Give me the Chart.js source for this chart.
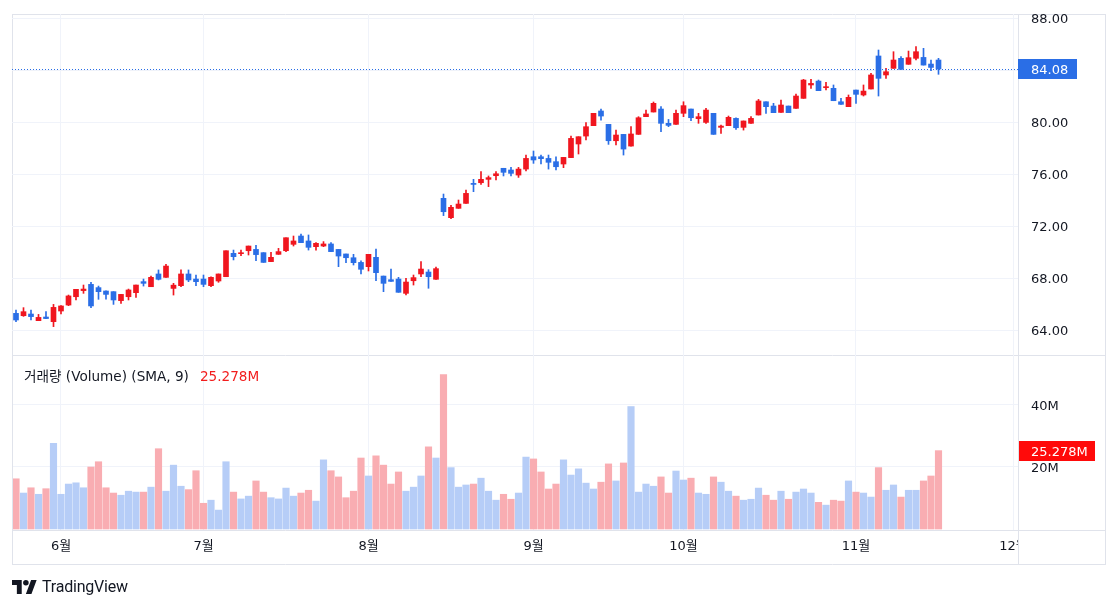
<!DOCTYPE html>
<html>
<head>
<meta charset="utf-8">
<script src="https://cdn.jsdelivr.net/npm/chart.js@4.4.1/dist/chart.umd.min.js"></script>
<style>
  html, body { margin: 0; padding: 0; background: #fff; width: 1118px; height: 609px; overflow: hidden; }
  #price { position: absolute; left: 0; top: 0; }
  #volume { position: absolute; left: 0; top: 356px; }
  #logo { position: absolute; left: 12px; top: 577px; display: flex; align-items: center; gap: 5px;
          font: 16px Roboto, "Noto Sans", sans-serif; color: #131722; letter-spacing: -0.2px; }
</style>
</head>
<body>
<canvas id="price" width="1118" height="356"></canvas>
<canvas id="volume" width="1118" height="253"></canvas>
<div id="logo">
  <svg width="25" height="14" viewBox="0 0 36 20"><path d="M14 20H7V7H0V0h14v20zM28 20h-8l7.5-20h8L28 20z" fill="#131722"/><circle cx="20" cy="4" r="4" fill="#131722"/></svg>
  <span>TradingView</span>
</div>
<script>
// daily bars, 23 May - 18 Nov (bar index on the x axis)
const open = [65.28, 65.10, 65.23, 64.72, 65.00, 64.64, 65.46, 65.92, 66.56, 67.03,
  67.51, 67.26, 67.00, 66.95, 66.26, 66.56, 66.87, 67.72, 67.33, 68.31,
  68.05, 67.20, 67.41, 68.31, 67.92, 67.92, 67.41, 67.77, 68.10, 69.90,
  69.87, 70.10, 70.20, 69.95, 69.26, 69.82, 70.10, 70.59, 71.23, 70.85,
  70.41, 70.46, 70.62, 70.20, 69.85, 69.56, 69.20, 68.87, 69.59, 68.15,
  67.87, 67.92, 66.82, 67.79, 68.31, 68.46, 67.90, 74.13, 72.64, 73.36,
  73.74, 75.28, 75.33, 75.59, 75.87, 76.44, 76.31, 75.92, 76.38, 77.33,
  77.33, 77.20, 76.95, 76.77, 77.26, 78.31, 78.92, 79.72, 80.85, 79.82,
  78.56, 79.05, 78.15, 79.05, 80.41, 80.77, 81.00, 79.90, 79.82, 80.67,
  81.00, 80.26, 79.97, 80.67, 79.59, 79.72, 80.28, 79.59, 79.90, 80.54,
  81.56, 81.23, 80.74, 81.23, 81.05, 81.82, 82.85, 83.15, 82.64, 82.59,
  81.56, 81.18, 82.46, 82.08, 82.54, 85.08, 83.62, 84.13, 84.90, 84.44,
  84.90, 84.97, 84.46, 84.77];
const high = [65.54, 65.72, 65.54, 65.20, 65.41, 65.97, 65.87, 66.69, 67.13, 67.46,
  67.67, 67.38, 67.02, 66.95, 66.74, 67.15, 67.46, 67.92, 68.15, 68.62,
  69.05, 67.59, 68.62, 68.62, 68.23, 68.23, 68.10, 68.31, 70.10, 70.15,
  70.15, 70.46, 70.51, 69.95, 69.97, 70.28, 71.10, 71.23, 71.38, 71.31,
  70.72, 70.80, 70.72, 70.20, 69.85, 69.82, 69.33, 69.82, 70.23, 68.15,
  68.69, 68.05, 67.97, 68.23, 69.26, 68.64, 68.85, 74.46, 73.59, 74.00,
  74.77, 75.59, 76.18, 75.85, 76.18, 76.44, 76.51, 76.51, 77.46, 77.77,
  77.46, 77.46, 77.33, 77.28, 78.92, 78.87, 79.95, 80.67, 81.00, 79.82,
  79.38, 79.05, 79.64, 80.41, 80.92, 81.54, 81.18, 80.20, 80.92, 81.56,
  81.00, 80.67, 81.05, 80.67, 79.77, 80.46, 80.33, 80.08, 80.41, 81.74,
  81.56, 81.44, 81.69, 81.23, 82.15, 83.28, 83.28, 83.23, 83.05, 82.85,
  81.82, 82.08, 82.46, 82.85, 83.74, 85.54, 84.13, 85.41, 85.03, 85.46,
  85.80, 85.67, 84.77, 84.90];
const low = [64.64, 65.05, 64.77, 64.72, 64.87, 64.26, 65.23, 65.87, 66.31, 66.82,
  65.72, 66.36, 66.38, 65.97, 66.05, 66.31, 66.51, 67.38, 67.33, 67.85,
  68.05, 66.69, 67.33, 67.72, 67.41, 67.33, 67.33, 67.67, 68.10, 69.39,
  69.72, 69.77, 69.33, 69.20, 69.26, 69.82, 70.03, 70.46, 70.72, 70.15,
  70.15, 70.41, 70.03, 68.87, 69.18, 69.00, 68.31, 68.54, 67.80, 66.95,
  67.74, 66.90, 66.69, 67.46, 68.10, 67.21, 67.90, 72.80, 72.56, 73.36,
  73.74, 74.64, 75.20, 75.03, 75.54, 75.85, 75.85, 75.74, 76.23, 76.82,
  76.77, 76.38, 76.31, 76.49, 77.26, 77.54, 78.62, 79.72, 80.15, 78.28,
  78.23, 77.46, 78.15, 79.05, 80.41, 80.77, 79.26, 79.64, 79.82, 80.41,
  80.10, 79.90, 79.90, 79.05, 79.13, 79.72, 79.44, 79.38, 79.90, 80.54,
  80.67, 80.72, 80.74, 80.72, 81.05, 81.82, 82.59, 82.41, 82.46, 81.64,
  81.36, 81.18, 81.44, 82.00, 82.54, 82.00, 83.36, 84.13, 84.05, 84.44,
  84.77, 84.38, 83.95, 83.67];
const close = [64.77, 65.41, 65.03, 64.97, 64.88, 65.74, 65.85, 66.62, 67.13, 67.15,
  65.85, 66.95, 66.74, 66.31, 66.74, 67.08, 67.46, 67.59, 68.05, 67.90,
  68.92, 67.45, 68.31, 67.85, 67.72, 67.51, 68.05, 68.31, 70.10, 69.64,
  69.90, 70.46, 69.80, 69.20, 69.59, 70.03, 71.10, 70.85, 70.72, 70.36,
  70.67, 70.62, 70.03, 69.69, 69.56, 69.18, 68.67, 69.82, 68.41, 67.59,
  67.74, 66.90, 67.69, 68.03, 68.69, 68.10, 68.72, 73.10, 73.44, 73.69,
  74.51, 75.20, 75.59, 75.72, 76.02, 76.13, 76.05, 76.38, 77.20, 77.08,
  77.18, 76.90, 76.56, 77.28, 78.74, 78.87, 79.64, 80.67, 80.46, 78.56,
  79.00, 77.92, 79.08, 80.33, 80.62, 81.44, 79.90, 79.74, 80.67, 81.26,
  80.33, 80.41, 80.92, 79.05, 79.69, 80.36, 79.56, 80.08, 80.28, 81.62,
  81.18, 80.72, 81.31, 80.72, 82.00, 83.23, 82.97, 82.41, 82.72, 81.64,
  81.36, 81.90, 82.13, 82.38, 83.62, 83.36, 83.87, 84.77, 84.05, 84.95,
  85.41, 84.38, 84.20, 84.08];
// volume in millions
const volume = [16.2, 11.6, 13.3, 11.2, 13.0, 27.6, 11.2, 14.5, 14.9, 13.3,
  20.0, 21.7, 13.3, 11.6, 10.9, 12.2, 11.9, 11.9, 13.5, 25.9,
  12.2, 20.6, 13.8, 12.7, 18.8, 8.3, 9.3, 6.1, 21.7, 11.9,
  9.7, 10.6, 15.5, 11.9, 10.1, 9.7, 13.2, 10.6, 11.6, 12.5,
  9.0, 22.3, 18.8, 16.8, 10.1, 12.2, 22.9, 17.1, 23.6, 20.6,
  14.5, 18.4, 12.2, 13.5, 17.1, 26.5, 22.9, 49.8, 19.8, 13.5,
  14.2, 14.5, 16.4, 12.2, 9.3, 11.2, 9.6, 11.6, 23.2, 22.6,
  18.4, 12.9, 14.5, 22.3, 17.4, 19.4, 14.8, 12.9, 15.1, 21.0,
  15.5, 21.3, 39.5, 11.9, 14.5, 13.8, 16.8, 11.6, 18.7, 15.8,
  16.4, 11.6, 11.2, 16.8, 15.1, 12.2, 10.6, 9.3, 9.6, 13.2,
  10.9, 9.3, 12.2, 9.6, 11.9, 12.9, 11.6, 8.6, 7.7, 9.3,
  9.0, 15.5, 11.9, 11.6, 10.3, 19.8, 12.5, 14.2, 10.3, 12.5,
  12.5, 15.5, 17.1, 25.278];

const monthTicks = [6, 25, 47, 69, 89, 112, 133];
const monthLabels = ["6월", "7월", "8월", "9월", "10월", "11월", "12월"];
const priceTicks = [64, 68, 72, 76, 80, 84, 88];
const volumeTicks = [20, 40];
const lastPrice = 84.08;
const lastVolume = 25.278;

const upColor = "#f0161f";
const downColor = "#2a6ee6";
const volUpColor = "#b6cdf7";
const volDownColor = "#f9adb2";
const gridColor = "#f0f3fa";
const frameColor = "#e0e3eb";
const textColor = "#131722";
const fontFamily = "'DejaVu Sans', 'Noto Sans CJK KR', sans-serif";
const axisFont = { family: fontFamily, size: 13 };
const xMin = -0.533;
const xMax = 133.6;

const idx = open.map((_, i) => i);
const candleColors = idx.map(i => (close[i] >= open[i] ? upColor : downColor));
const volumeColors = idx.map(i => (close[i] >= open[i] ? volUpColor : volDownColor));

function frameLine(ctx, x1, y1, x2, y2) {
  ctx.beginPath();
  ctx.moveTo(x1, y1);
  ctx.lineTo(x2, y2);
  ctx.stroke();
}

// keep the tick labels from shrinking the plot area
function noPad(s) {
  s.paddingTop = 0;
  s.paddingBottom = 0;
  s.paddingLeft = 0;
  s.paddingRight = 0;
}

const priceOverlay = {
  id: "priceOverlay",
  beforeDraw(chart) {
    const ctx = chart.ctx;
    ctx.save();
    ctx.strokeStyle = frameColor;
    ctx.lineWidth = 1;
    frameLine(ctx, 12.5, 14, 12.5, 356);
    frameLine(ctx, 12, 14.5, 1106, 14.5);
    frameLine(ctx, 1105.5, 14, 1105.5, 356);
    frameLine(ctx, 1018.5, 14, 1018.5, 356);
    frameLine(ctx, 12, 355.5, 1106, 355.5);
    ctx.restore();
  },
  afterDraw(chart) {
    const ctx = chart.ctx;
    const yy = Math.round(chart.scales.y.getPixelForValue(lastPrice)) + 0.5;
    ctx.save();
    ctx.strokeStyle = "#2a6ee6";
    ctx.lineWidth = 1;
    ctx.setLineDash([1, 2]);
    frameLine(ctx, 12, yy, 1018, yy);
    ctx.setLineDash([]);
    ctx.fillStyle = "#2a6ee6";
    ctx.fillRect(1018, yy - 10.5, 59, 20);
    ctx.fillStyle = "#fff";
    ctx.font = "13px " + fontFamily;
    ctx.textBaseline = "middle";
    ctx.fillText(lastPrice.toFixed(2), 1031, yy + 1);
    ctx.restore();
  },
};

const volumeOverlay = {
  id: "volumeOverlay",
  afterDraw(chart) {
    const ctx = chart.ctx;
    ctx.save();
    ctx.fillStyle = "#fff";
    ctx.fillRect(1019, 175, 86, 33);
    ctx.font = "13.6px " + fontFamily;
    ctx.textBaseline = "middle";
    ctx.fillStyle = textColor;
    const legend = "거래량 (Volume) (SMA, 9)";
    ctx.fillText(legend, 24, 21);
    ctx.fillStyle = "#f21d1d";
    ctx.fillText(lastVolume.toFixed(3) + "M", 24 + ctx.measureText(legend).width + 11, 21);

    const yy = Math.round(chart.scales.y.getPixelForValue(lastVolume)) + 0.5;
    ctx.fillStyle = "#ff0a0a";
    ctx.fillRect(1018, yy - 10.5, 77, 20);
    ctx.fillStyle = "#fff";
    ctx.font = "13px " + fontFamily;
    ctx.fillText(lastVolume.toFixed(3) + "M", 1031, yy + 1);

    ctx.strokeStyle = frameColor;
    ctx.lineWidth = 1;
    frameLine(ctx, 12.5, 0, 12.5, 209);
    frameLine(ctx, 1105.5, 0, 1105.5, 209);
    frameLine(ctx, 1018.5, 0, 1018.5, 209);
    frameLine(ctx, 12, 174.5, 1106, 174.5);
    frameLine(ctx, 12, 208.5, 1106, 208.5);
    ctx.restore();
  },
};

new Chart(document.getElementById("price"), {
  type: "bar",
  data: {
    datasets: [
      {
        label: "wick",
        data: idx.map(i => ({ x: i, y: [low[i], high[i]] })),
        backgroundColor: candleColors,
        barThickness: 1,
        grouped: false,
        order: 2,
      },
      {
        label: "body",
        data: idx.map(i => ({ x: i, y: [open[i], close[i]] })),
        backgroundColor: candleColors,
        barThickness: 5,
        minBarLength: 1,
        grouped: false,
        order: 1,
      },
    ],
  },
  options: {
    responsive: false,
    animation: false,
    layout: { padding: { left: 12, top: 14, right: 13, bottom: 0 } },
    plugins: { legend: { display: false }, tooltip: { enabled: false } },
    scales: {
      x: {
        type: "linear",
        min: xMin,
        max: xMax,
        offset: false,
        grid: { color: gridColor, drawTicks: false, offset: false },
        border: { display: false },
        ticks: { display: false },
        afterBuildTicks: s => { s.ticks = monthTicks.map(v => ({ value: v })); },
        afterFit: s => { s.height = 0; noPad(s); },
      },
      y: {
        position: "right",
        min: 62.0,
        max: 88.31,
        grid: { color: gridColor, drawTicks: false },
        border: { display: false },
        ticks: { padding: 13, labelOffset: 1.5, color: textColor, font: axisFont, callback: v => Number(v).toFixed(2) },
        afterBuildTicks: s => { s.ticks = priceTicks.map(v => ({ value: v })); },
        afterFit: s => { s.width = 87; noPad(s); },
      },
    },
  },
  plugins: [priceOverlay],
});

new Chart(document.getElementById("volume"), {
  type: "bar",
  data: {
    datasets: [
      {
        label: "거래량",
        data: idx.map(i => ({ x: i, y: volume[i] })),
        backgroundColor: volumeColors,
        barThickness: 6.5,
      },
    ],
  },
  options: {
    responsive: false,
    animation: false,
    layout: { padding: { left: 12, top: 0, right: 13, bottom: 44 } },
    plugins: { legend: { display: false }, tooltip: { enabled: false } },
    scales: {
      x: {
        type: "linear",
        min: xMin,
        max: xMax,
        offset: false,
        grid: { color: gridColor, drawTicks: false, offset: false },
        border: { display: false },
        ticks: {
          padding: 9,
          color: textColor,
          font: axisFont,
          maxRotation: 0,
          autoSkip: false,
          callback: (v, i) => monthLabels[i],
        },
        afterBuildTicks: s => { s.ticks = monthTicks.map(v => ({ value: v })); },
        afterFit: s => { s.height = 35; noPad(s); },
      },
      y: {
        position: "right",
        min: -0.32,
        max: 55.8,
        grid: { color: gridColor, drawTicks: false },
        border: { display: false },
        ticks: { padding: 13, labelOffset: 1.5, color: textColor, font: axisFont, callback: v => v + "M" },
        afterBuildTicks: s => { s.ticks = volumeTicks.map(v => ({ value: v })); },
        afterFit: s => { s.width = 87; noPad(s); },
      },
    },
  },
  plugins: [volumeOverlay],
});
</script>
</body>
</html>
